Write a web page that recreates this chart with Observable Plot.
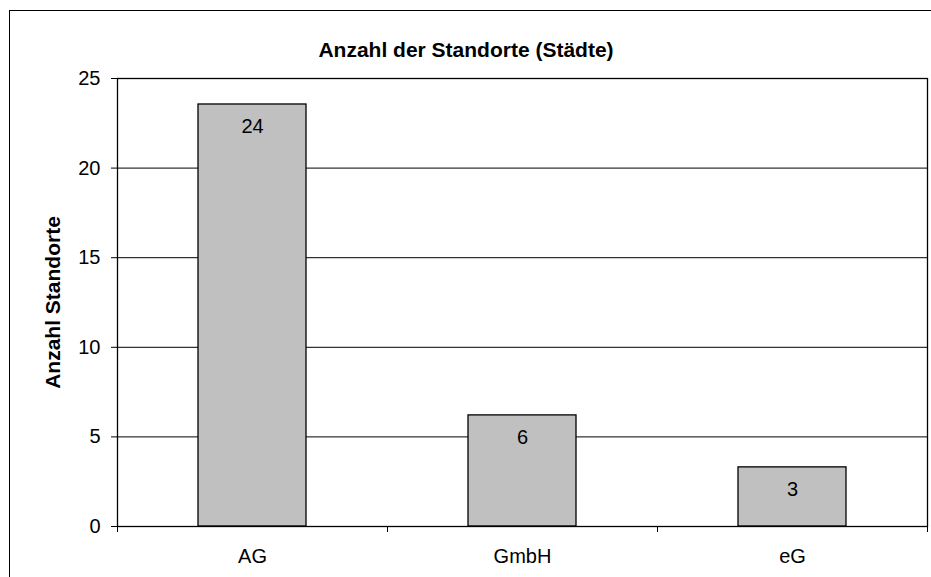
<!DOCTYPE html>
<html>
<head>
<meta charset="utf-8">
<script src="https://cdn.jsdelivr.net/npm/d3@7"></script>
<script src="https://cdn.jsdelivr.net/npm/@observablehq/plot@0.6"></script>
<style>
  html, body { margin: 0; padding: 0; background: #fff; overflow: hidden; }
  #wrap { position: relative; width: 931px; height: 577px; }
  #border { position: absolute; left: 9px; top: 10px; width: 960px; height: 620px;
            border-left: 1px solid #000; border-top: 1px solid #000; pointer-events: none; }
</style>
</head>
<body>
<div id="wrap"><div id="border"></div></div>
<script>
const categories = ["AG", "GmbH", "eG"];
const values = [23.55, 6.2, 3.3];
const valueLabels = ["24", "6", "3"];
const yTicks = [0, 5, 10, 15, 20, 25];
const title = "Anzahl der Standorte (Städte)";
const yLabel = "Anzahl Standorte";

const data = categories.map((c, i) => ({cat: c, value: values[i], label: valueLabels[i]}));

const W = 931, H = 577, mL = 117, mR = 4, mT = 78, mB = 51;
const step = (W - mL - mR) / categories.length;
const font = "'Liberation Sans', Arial, sans-serif";

const chart = Plot.plot({
  width: W, height: H,
  marginLeft: mL, marginRight: mR, marginTop: mT, marginBottom: mB,
  style: {fontFamily: font, fontSize: "20px", color: "#000", background: "#fff", overflow: "visible"},
  x: {domain: categories, paddingInner: 0.6, paddingOuter: 0.3, label: null},
  y: {domain: [0, 25], ticks: yTicks, label: null},
  marks: [
    Plot.gridY(yTicks, {stroke: "#000", strokeOpacity: 1, strokeWidth: 1}),
    Plot.barY(data, {x: "cat", y: "value", fill: "#C0C0C0", stroke: "#000", strokeWidth: 1.3}),
    Plot.text(data, {x: "cat", y: "value", text: "label", dy: 22, fontSize: 20, fill: "#000"}),
    Plot.frame({stroke: "#000", strokeWidth: 1.3}),
    Plot.axisY(yTicks, {tickSize: 6, tickPadding: 11, fontSize: 20, stroke: "#000", label: null}),
    Plot.axisX({tickSize: 0, tickPadding: 22, fontSize: 20, label: null}),
    Plot.ruleX(categories, {x: d => d, y1: 0, y2: 0, insetBottom: -6, dx: -step / 2, stroke: "#000"}),
    Plot.ruleX(categories.slice(-1), {x: d => d, y1: 0, y2: 0, insetBottom: -6, dx: step / 2, stroke: "#000"}),
    Plot.text([yLabel], {frameAnchor: "left", dx: -64, rotate: -90, textAnchor: "middle",
      fontWeight: "bold", fontSize: 21, fill: "#000"}),
    Plot.text([title], {frameAnchor: "top-left", dx: W / 2 - mL, dy: 42 - mT, textAnchor: "middle",
      fontWeight: "bold", fontSize: 21, fill: "#000"})
  ]
});
chart.style.position = "absolute";
chart.style.left = "0";
chart.style.top = "0";
document.getElementById("wrap").prepend(chart);
</script>
</body>
</html>
